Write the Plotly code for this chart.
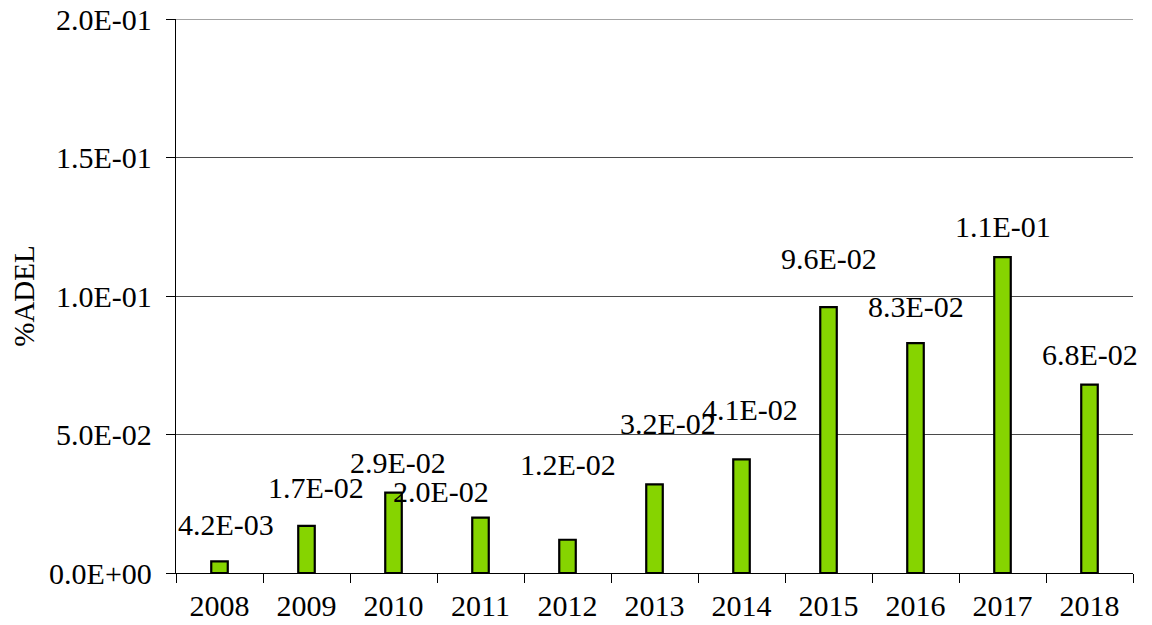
import plotly.graph_objects as go

years = ["2008", "2009", "2010", "2011", "2012", "2013", "2014", "2015", "2016", "2017", "2018"]
values = [0.0042, 0.017, 0.029, 0.020, 0.012, 0.032, 0.041, 0.096, 0.083, 0.114, 0.068]
value_labels = ["4.2E-03", "1.7E-02", "2.9E-02", "2.0E-02", "1.2E-02", "3.2E-02",
                "4.1E-02", "9.6E-02", "8.3E-02", "1.1E-01", "6.8E-02"]
y_tickvals = [0.0, 0.05, 0.10, 0.15, 0.20]
y_ticktext = ["0.0E+00", "5.0E-02", "1.0E-01", "1.5E-01", "2.0E-01"]

# label offsets in pixels (style only): (dx, dy above bar top)
label_dx = [6, 9, 4, -40, 0, 13, 8, 0, 0, 0, 0]
label_dy = [37, 38, 30, 26, 75, 61, 50, 49, 37, 31, 30]

FONT = "Liberation Serif, Times New Roman, serif"
FS = 30
GRID = "#4a4a4a"

fig = go.Figure()
fig.add_trace(go.Bar(
    x=years, y=values,
    width=0.19,
    marker=dict(color="#86d400", line=dict(color="#000000", width=2.2)),
    hoverinfo="x+y",
))

for i, (v, t, dx, dy) in enumerate(zip(values, value_labels, label_dx, label_dy)):
    fig.add_annotation(x=i, y=v, text=t, showarrow=False, xref="x", yref="y",
                       xanchor="center", yanchor="middle", xshift=dx, yshift=dy,
                       font=dict(family=FONT, size=FS, color="#000"))

# top gridline at the upper end of the axis (plotly drops the edge gridline)
fig.add_shape(type="line", xref="paper", yref="y", x0=0, x1=1,
              y0=y_tickvals[-1], y1=y_tickvals[-1],
              line=dict(color=GRID, width=1), layer="below")

fig.update_layout(
    width=1152, height=625,
    margin=dict(l=168, r=27, t=11, b=60, autoexpand=False),
    paper_bgcolor="white", plot_bgcolor="white",
    showlegend=False,
    font=dict(family=FONT, size=FS, color="#000"),
    xaxis=dict(
        type="category", showline=True, linecolor="#000", linewidth=1.3,
        ticks="outside", ticklen=9, tickcolor="#000", tickwidth=1.3,
        tickson="boundaries", showgrid=False,
        ticklabelstandoff=6, ticklabeloverflow="allow",
        tickfont=dict(family=FONT, size=FS, color="#000"),
        range=[-0.5, 10.5],
    ),
    yaxis=dict(
        range=[0, 0.2], tickvals=y_tickvals, ticktext=y_ticktext,
        showline=True, linecolor="#000", linewidth=1.3,
        ticks="outside", ticklen=9, tickcolor="#000", tickwidth=1.3,
        showgrid=True, gridcolor=GRID, gridwidth=1,
        zeroline=False,
        ticklabelstandoff=8, ticklabeloverflow="allow",
        tickfont=dict(family=FONT, size=FS, color="#000"),
        title=dict(text="%ADEL", font=dict(family=FONT, size=29, color="#000"), standoff=8),
    ),
)

fig.write_html("out.html")
